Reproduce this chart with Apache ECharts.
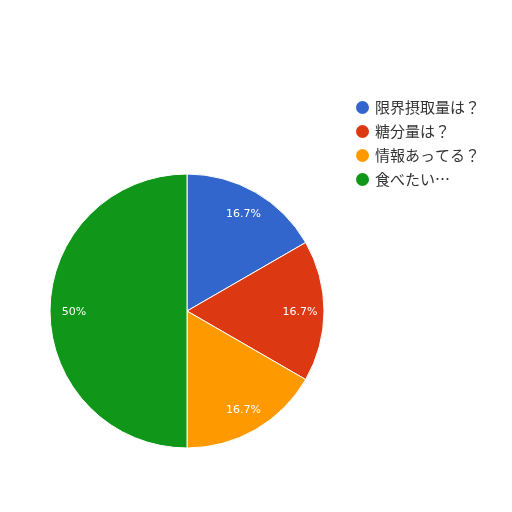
<!DOCTYPE html>
<html>
<head>
<meta charset="utf-8">
<script src="https://cdn.jsdelivr.net/npm/echarts@6/dist/echarts.min.js"></script>
<style>
  html, body { margin: 0; padding: 0; background: #fff; }
  #main { width: 512px; height: 512px; }
</style>
</head>
<body>
<div id="main"></div>
<script>
var categories = ['限界摂取量は？', '糖分量は？', '情報あってる？', '食べたい…'];
var values = [1, 1, 1, 3];
var colors = ['#3366cc', '#dc3912', '#ff9900', '#109618'];

var chartDom = document.getElementById('main');
var myChart = echarts.init(chartDom);

var pieData = categories.map(function (name, i) {
    return { name: name, value: values[i], itemStyle: { color: colors[i] } };
});

var option = {
    animation: false,
    color: colors,
    legend: {
        orient: 'vertical',
        left: 349,
        top: 94,
        icon: 'circle',
        itemWidth: 15,
        itemHeight: 15,
        itemGap: 7,
        textStyle: {
            fontFamily: 'Noto Sans CJK JP',
            fontSize: 15,
            color: '#333'
        },
        data: categories
    },
    series: [
        {
            name: 'pie',
            type: 'pie',
            center: [187, 311],
            radius: [0, 137],
            startAngle: 90,
            clockwise: true,
            label: { show: false },
            labelLine: { show: false },
            itemStyle: { borderColor: '#fff', borderWidth: 1 },
            emphasis: { disabled: true },
            data: pieData
        },
        {
            name: 'labels',
            type: 'pie',
            center: [187, 312],
            radius: [84, 136],
            startAngle: 90,
            silent: true,
            legendHoverLink: false,
            itemStyle: { color: 'transparent', borderWidth: 0 },
            label: {
                show: true,
                position: 'inside',
                formatter: function (p) {
                    return (Math.round(p.percent * 10) / 10) + '%';
                },
                color: '#fff',
                fontFamily: 'DejaVu Sans',
                fontSize: 11
            },
            labelLine: { show: false },
            emphasis: { disabled: true },
            data: categories.map(function (name, i) {
                return { name: name + ' ', value: values[i] };
            })
        }
    ]
};

myChart.setOption(option);
</script>
</body>
</html>
